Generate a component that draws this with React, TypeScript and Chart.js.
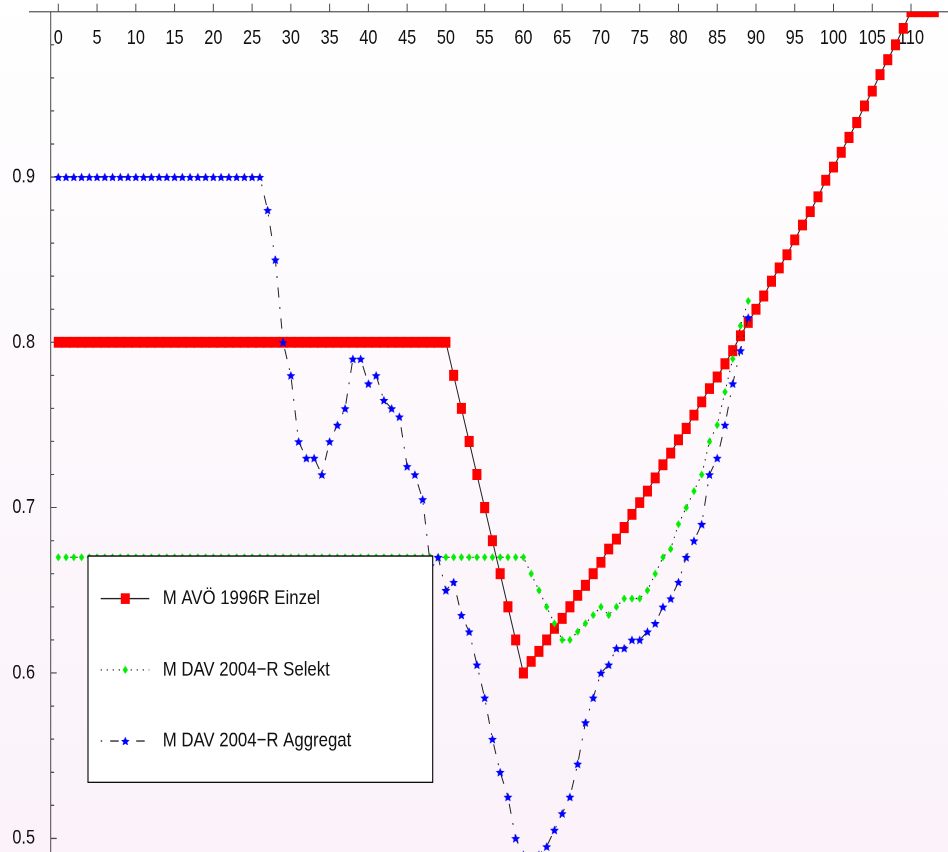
import React, { useEffect, useRef } from "react";
import { Chart, registerables } from "chart.js";

Chart.register(...registerables);

// ---------------- data ----------------
const X_TICKS = [0, 5, 10, 15, 20, 25, 30, 35, 40, 45, 50, 55, 60, 65, 70, 75, 80, 85, 90, 95, 100, 105, 110];
const X_TICK_LABELS = ["0", "5", "10", "15", "20", "25", "30", "35", "40", "45", "50", "55", "60", "65", "70", "75", "80", "85", "90", "95", "100", "105", "110"];
const Y_TICKS = [0.5, 0.6, 0.7, 0.8, 0.9];
const Y_TICK_LABELS = ["0.5", "0.6", "0.7", "0.8", "0.9"];
const Y_MINOR_TICKS = [0.52, 0.54, 0.56, 0.58, 0.62, 0.64, 0.66, 0.68, 0.72, 0.74, 0.76, 0.78, 0.82, 0.84, 0.86, 0.88, 0.92, 0.94, 0.96, 0.98];

const SERIES_LABELS = ["M AVÖ 1996R Einzel", "M DAV 2004\u2212R Selekt", "M DAV 2004\u2212R Aggregat"];

const EINZEL_AGES = [
  0, 1, 2, 3, 4, 5, 6, 7, 8, 9, 10, 11, 12, 13, 14, 15, 16, 17, 18, 19,
  20, 21, 22, 23, 24, 25, 26, 27, 28, 29, 30, 31, 32, 33, 34, 35, 36, 37, 38, 39,
  40, 41, 42, 43, 44, 45, 46, 47, 48, 49, 50, 51, 52, 53, 54, 55, 56, 57, 58, 59,
  60, 61, 62, 63, 64, 65, 66, 67, 68, 69, 70, 71, 72, 73, 74, 75, 76, 77, 78, 79,
  80, 81, 82, 83, 84, 85, 86, 87, 88, 89, 90, 91, 92, 93, 94, 95, 96, 97, 98, 99,
  100, 101, 102, 103, 104, 105, 106, 107, 108, 109, 110, 111, 112, 113,
];
const EINZEL_VALUES = [
  0.8, 0.8, 0.8, 0.8, 0.8, 0.8, 0.8, 0.8, 0.8, 0.8,
  0.8, 0.8, 0.8, 0.8, 0.8, 0.8, 0.8, 0.8, 0.8, 0.8,
  0.8, 0.8, 0.8, 0.8, 0.8, 0.8, 0.8, 0.8, 0.8, 0.8,
  0.8, 0.8, 0.8, 0.8, 0.8, 0.8, 0.8, 0.8, 0.8, 0.8,
  0.8, 0.8, 0.8, 0.8, 0.8, 0.8, 0.8, 0.8, 0.8, 0.8,
  0.8,
  0.78, 0.76, 0.74, 0.72, 0.7, 0.68, 0.66, 0.64, 0.62, 0.6,
  0.607, 0.613, 0.62, 0.627, 0.633, 0.64, 0.647, 0.653, 0.66, 0.667,
  0.675, 0.681, 0.688, 0.696, 0.703, 0.71, 0.718, 0.726, 0.733, 0.741,
  0.748, 0.756, 0.764, 0.772, 0.779, 0.787, 0.795, 0.804, 0.812, 0.82,
  0.828, 0.837, 0.845, 0.853, 0.862, 0.871, 0.879, 0.888, 0.898, 0.906,
  0.915, 0.924, 0.933, 0.943, 0.952, 0.962, 0.971, 0.98, 0.99, 1.0,
  1.0, 1.0, 1.0,
];

const SELEKT_AGES = [
  0, 1, 2, 3, 4, 5, 6, 7, 8, 9, 10, 11, 12, 13, 14, 15, 16, 17, 18, 19,
  20, 21, 22, 23, 24, 25, 26, 27, 28, 29, 30, 31, 32, 33, 34, 35, 36, 37, 38, 39,
  40, 41, 42, 43, 44, 45, 46, 47, 48, 49, 50, 51, 52, 53, 54, 55, 56, 57, 58, 59,
  60, 61, 62, 63, 64, 65, 66, 67, 68, 69, 70, 71, 72, 73, 74, 75, 76, 77, 78, 79,
  80, 81, 82, 83, 84, 85, 86, 87, 88, 89,
];
const SELEKT_VALUES = [
  0.67, 0.67, 0.67, 0.67, 0.67, 0.67, 0.67, 0.67, 0.67, 0.67,
  0.67, 0.67, 0.67, 0.67, 0.67, 0.67, 0.67, 0.67, 0.67, 0.67,
  0.67, 0.67, 0.67, 0.67, 0.67, 0.67, 0.67, 0.67, 0.67, 0.67,
  0.67, 0.67, 0.67, 0.67, 0.67, 0.67, 0.67, 0.67, 0.67, 0.67,
  0.67, 0.67, 0.67, 0.67, 0.67, 0.67, 0.67, 0.67, 0.67, 0.67,
  0.67, 0.67, 0.67, 0.67, 0.67, 0.67, 0.67, 0.67, 0.67, 0.67,
  0.67,
  0.66, 0.65, 0.64, 0.63, 0.62, 0.62, 0.625, 0.63, 0.635, 0.64,
  0.635, 0.64, 0.645, 0.645, 0.645, 0.65, 0.66, 0.67, 0.675, 0.69,
  0.7, 0.71, 0.72, 0.74, 0.75, 0.77, 0.79, 0.81, 0.825,
];

const AGGREGAT_AGES = [
  0, 1, 2, 3, 4, 5, 6, 7, 8, 9, 10, 11, 12, 13, 14, 15, 16, 17, 18, 19,
  20, 21, 22, 23, 24, 25, 26, 27, 28, 29, 30, 31, 32, 33, 34, 35, 36, 37, 38, 39,
  40, 41, 42, 43, 44, 45, 46, 47, 48, 49, 50, 51, 52, 53, 54, 55, 56, 57, 58, 59,
  60, 61, 62, 63, 64, 65, 66, 67, 68, 69, 70, 71, 72, 73, 74, 75, 76, 77, 78, 79,
  80, 81, 82, 83, 84, 85, 86, 87, 88, 89,
];
const AGGREGAT_VALUES = [
  0.9, 0.9, 0.9, 0.9, 0.9, 0.9, 0.9, 0.9, 0.9, 0.9,
  0.9, 0.9, 0.9, 0.9, 0.9, 0.9, 0.9, 0.9, 0.9, 0.9,
  0.9, 0.9, 0.9, 0.9, 0.9, 0.9, 0.9,
  0.88, 0.85, 0.8, 0.78,
  0.74, 0.73, 0.73, 0.72, 0.74, 0.75, 0.76, 0.79, 0.79, 0.775,
  0.78, 0.765, 0.76, 0.755, 0.725, 0.72, 0.705, 0.665, 0.67, 0.65,
  0.655, 0.635, 0.625, 0.605, 0.585, 0.56, 0.54, 0.525, 0.5, 0.49,
  0.485, 0.49, 0.495, 0.505, 0.515, 0.525, 0.545, 0.57, 0.585, 0.6,
  0.605, 0.615, 0.615, 0.62, 0.62, 0.625, 0.63, 0.64, 0.645, 0.655,
  0.67, 0.68, 0.69, 0.72, 0.73, 0.75, 0.775, 0.795, 0.815,
];

const X_MIN = -0.98;
const X_MAX = 114.77;
const Y_MIN = 0.4917;
const Y_MAX = 1.0;

// ---------------- styling ----------------
const FONT = '"Liberation Sans", Arial, Helvetica, sans-serif';
const CSS_W = 948;
const CSS_H = 852;
const INNER_H = 710; // drawn at 948x710 then stretched vertically to 852 (like the reference)
const AXIS_LEFT = 50.7;
const AXIS_TOP = 9.75;
const LINE_COLOR = "#222222";
const AXIS_COLOR = "#4a4a4a";

function makeImage(w: number, h: number, draw: (g: CanvasRenderingContext2D) => void) {
  const S = 4;
  const c = document.createElement("canvas");
  c.width = w * S;
  c.height = h * S;
  const g = c.getContext("2d")!;
  g.scale(S, S);
  draw(g);
  const img = new Image(w, h);
  img.src = c.toDataURL();
  return img;
}

function makeStar() {
  return makeImage(9, 8, (g) => {
    const w = 8.8;
    const hh = 7.4;
    const rx = w / 1.902;
    const ry = hh / 1.809;
    const cx = 4.5;
    const cy = 0.3 + ry;
    g.beginPath();
    for (let k = 0; k < 10; k++) {
      const a = -Math.PI / 2 + (k * Math.PI) / 5;
      const r = k % 2 === 0 ? 1 : 0.46;
      const px = cx + rx * r * Math.cos(a);
      const py = cy + ry * r * Math.sin(a);
      if (k === 0) g.moveTo(px, py);
      else g.lineTo(px, py);
    }
    g.closePath();
    g.fillStyle = "#0000ff";
    g.fill();
  });
}

function makeDiamond() {
  return makeImage(6, 7, (g) => {
    g.beginPath();
    g.moveTo(3, 0.1);
    g.lineTo(5.7, 3.5);
    g.lineTo(3, 6.9);
    g.lineTo(0.3, 3.5);
    g.closePath();
    g.fillStyle = "#00ee00";
    g.fill();
  });
}

const mathPlugin = {
  id: "mathematicaStyle",
  beforeDraw(chart: any) {
    const { ctx, width, height } = chart;
    ctx.save();
    const grad = ctx.createLinearGradient(0, 0, 0, height);
    grad.addColorStop(0, "#ffffff");
    grad.addColorStop(1, "#fbf2fa");
    ctx.fillStyle = grad;
    ctx.fillRect(0, 0, width, height);
    ctx.restore();
  },
  beforeDatasetsDraw(chart: any) {
    const { ctx, chartArea, scales } = chart;
    const xs = scales.x;
    const ys = scales.y;
    const axisY = ys.getPixelForValue(Y_MAX);
    const axisX = chartArea.left;
    ctx.save();
    ctx.strokeStyle = AXIS_COLOR;
    ctx.lineWidth = 1;
    ctx.beginPath();
    ctx.moveTo(xs.getPixelForValue(-3.78), axisY);
    ctx.lineTo(chart.width, axisY);
    ctx.moveTo(axisX, axisY);
    ctx.lineTo(axisX, chart.height);
    X_TICKS.forEach((v) => {
      const px = xs.getPixelForValue(v);
      ctx.moveTo(px, axisY - 6.7);
      ctx.lineTo(px, axisY);
    });
    Y_TICKS.forEach((v) => {
      const py = ys.getPixelForValue(v);
      ctx.moveTo(axisX, py);
      ctx.lineTo(axisX + 6, py);
    });
    Y_MINOR_TICKS.forEach((v) => {
      const py = ys.getPixelForValue(v);
      ctx.moveTo(axisX, py);
      ctx.lineTo(axisX + 3.4, py);
    });
    ctx.stroke();
    ctx.restore();
  },
  afterDatasetsDraw(chart: any) {
    const { ctx } = chart;
    const x0 = 88, y0 = 463.3, x1 = 432.7, y1 = 651.9;
    ctx.save();
    ctx.fillStyle = "#ffffff";
    ctx.fillRect(x0, y0, x1 - x0, y1 - y0);
    ctx.strokeStyle = "#000000";
    ctx.lineWidth = 1.1;
    ctx.strokeRect(x0, y0, x1 - x0, y1 - y0);
    chart.data.datasets.forEach((ds: any, i: number) => {
      const y = 498.9 + i * 59.3;
      ctx.save();
      ctx.strokeStyle = LINE_COLOR;
      ctx.lineWidth = 1;
      ctx.setLineDash(ds.borderDash || []);
      ctx.beginPath();
      ctx.moveTo(100.7, y);
      ctx.lineTo(149.3, y);
      ctx.stroke();
      ctx.restore();
      const st = ds.pointStyle;
      if (st === "rect") {
        ctx.fillStyle = ds.pointBackgroundColor;
        ctx.fillRect(125.3 - 4.5, y - 4.5, 9, 9);
      } else if (st && typeof st === "object") {
        ctx.drawImage(st, 125.3 - st.width / 2, y - st.height / 2, st.width, st.height);
      }
      ctx.fillStyle = "#111111";
      ctx.font = `16.8px ${FONT}`;
      ctx.textBaseline = "middle";
      ctx.textAlign = "left";
      ctx.fillText(ds.label, 162.7, y);
    });
    ctx.restore();
  },
};

function buildConfig(star: HTMLImageElement, diamond: HTMLImageElement): any {
  return {
    type: "line",
    data: {
      datasets: [
        {
          label: SERIES_LABELS[0],
          data: EINZEL_AGES.map((x, i) => ({ x, y: EINZEL_VALUES[i] })),
          borderColor: LINE_COLOR,
          borderWidth: 1,
          pointStyle: "rect",
          pointRadius: 6.4,
          pointBackgroundColor: "#ff0000",
          pointBorderColor: "#ff0000",
          pointBorderWidth: 0,
          fill: false,
          tension: 0,
          order: 3,
          clip: { left: 10, top: 0, right: 10, bottom: 10 },
        },
        {
          label: SERIES_LABELS[1],
          data: SELEKT_AGES.map((x, i) => ({ x, y: SELEKT_VALUES[i] })),
          borderColor: LINE_COLOR,
          borderWidth: 1,
          borderDash: [1.3, 4.7],
          pointStyle: diamond,
          pointRadius: 4,
          pointBorderWidth: 0,
          fill: false,
          tension: 0,
          order: 2,
        },
        {
          label: SERIES_LABELS[2],
          data: AGGREGAT_AGES.map((x, i) => ({ x, y: AGGREGAT_VALUES[i] })),
          borderColor: LINE_COLOR,
          borderWidth: 1,
          borderDash: [1.5, 8, 8.5, 8],
          pointStyle: star,
          pointRadius: 5,
          pointBorderWidth: 0,
          fill: false,
          tension: 0,
          order: 1,
        },
      ],
    },
    options: {
      animation: false,
      responsive: false,
      maintainAspectRatio: false,
      devicePixelRatio: 2,
      events: [],
      layout: { padding: 0, autoPadding: false },
      plugins: {
        legend: { display: false },
        tooltip: { enabled: false },
        title: { display: false },
      },
      scales: {
        x: {
          type: "linear",
          position: "top",
          min: X_MIN,
          max: X_MAX,
          bounds: "data",
          grid: { display: false, drawTicks: false },
          border: { display: false },
          ticks: {
            mirror: true,
            padding: 12.7,
            autoSkip: false,
            maxRotation: 0,
            minRotation: 0,
            color: "#111111",
            font: { family: FONT, size: 16.3 },
            callback: (_v: any, i: number) => X_TICK_LABELS[i],
          },
          afterBuildTicks: (s: any) => {
            s.ticks = X_TICKS.map((v) => ({ value: v }));
          },
          afterFit: (s: any) => {
            s.height = AXIS_TOP;
            s.paddingLeft = 0;
            s.paddingRight = 0;
            s.paddingTop = 0;
            s.paddingBottom = 0;
          },
        },
        y: {
          type: "linear",
          position: "left",
          min: Y_MIN,
          max: Y_MAX,
          bounds: "data",
          grid: { display: false, drawTicks: false },
          border: { display: false },
          ticks: {
            padding: 15.7,
            autoSkip: false,
            color: "#111111",
            font: { family: FONT, size: 16.3 },
            callback: (_v: any, i: number) => Y_TICK_LABELS[i],
          },
          afterBuildTicks: (s: any) => {
            s.ticks = Y_TICKS.map((v) => ({ value: v }));
          },
          afterFit: (s: any) => {
            s.width = AXIS_LEFT;
            s.paddingLeft = 0;
            s.paddingRight = 0;
            s.paddingTop = 0;
            s.paddingBottom = 0;
          },
        },
      },
    },
    plugins: [mathPlugin],
  };
}

export default function App() {
  const ref = useRef<HTMLCanvasElement>(null);
  useEffect(() => {
    document.body.style.margin = "0";
    let chart: any = null;
    let cancelled = false;
    const star = makeStar();
    const diamond = makeDiamond();
    Promise.all([star.decode().catch(() => {}), diamond.decode().catch(() => {})]).then(() => {
      if (cancelled || !ref.current) return;
      chart = new Chart(ref.current, buildConfig(star, diamond));
    });
    return () => {
      cancelled = true;
      if (chart) chart.destroy();
    };
  }, []);
  return (
    <div style={{ width: CSS_W, height: CSS_H, overflow: "hidden", position: "relative" }}>
      <canvas
        ref={ref}
        width={CSS_W}
        height={INNER_H}
        style={{ width: `${CSS_W}px`, height: `${CSS_H}px`, display: "block" }}
      />
    </div>
  );
}
